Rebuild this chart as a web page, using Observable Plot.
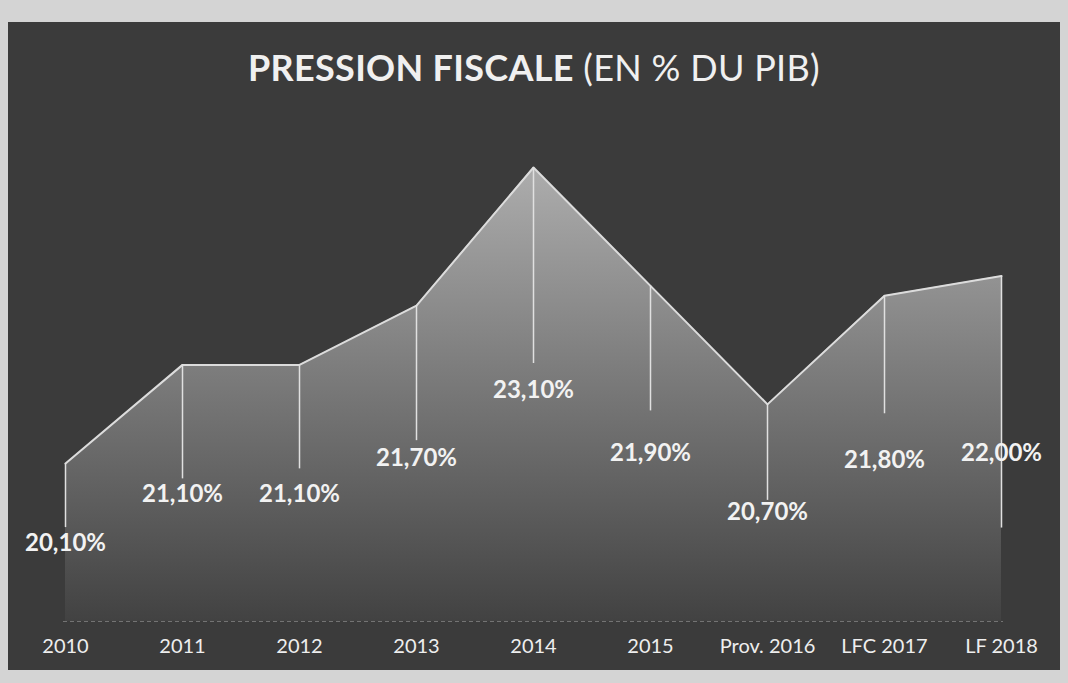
<!DOCTYPE html>
<html><head><meta charset="utf-8">
<script src="https://cdn.jsdelivr.net/npm/d3@7"></script>
<script src="https://cdn.jsdelivr.net/npm/@observablehq/plot@0.6"></script>
<style>
html,body{margin:0;padding:0;background:#d4d4d4;width:1068px;height:683px;overflow:hidden;}
#panel{position:absolute;left:8px;top:22px;width:1052px;height:648px;background:#3b3b3b;}
#title{height:90px;box-sizing:border-box;padding-top:24px;text-align:center;color:#f0f0f0;font-family:Lato,"Open Sans",sans-serif;font-size:36px;line-height:42px;white-space:nowrap;letter-spacing:0.3px;}
#title b{font-weight:700}
#title span{font-weight:400}
#chart svg{display:block;}
</style></head><body>
<div id="panel"><div id="title"><b>PRESSION FISCALE</b> <span>(EN % DU PIB)</span></div><div id="chart"></div></div>
<script>
// Data
const categories = ["2010", "2011", "2012", "2013", "2014", "2015", "Prov. 2016", "LFC 2017", "LF 2018"];
const values = [20.1, 21.1, 21.1, 21.7, 23.1, 21.9, 20.7, 21.8, 22.0];

// Layout (pixel offsets of the manually-placed data labels and their leader lines)
const labelDropPx = [80, 129, 129, 153, 223, 167, 108, 165, 177];
const leaderLenPx = [64, 114, 104, 135, 196, 125, 96, 118, 252];

const W = 1052, H = 558, mTop = 15.5, mBottom = 49, mLeft = 55, mRight = 57;
const yDomain = [18.5, 23.5];
const k = (H - mTop - mBottom) / (yDomain[1] - yDomain[0]);

const data = categories.map((c, i) => ({
  cat: c,
  value: values[i],
  label: values[i].toFixed(2).replace(".", ",") + "%",
  labelY: values[i] - labelDropPx[i] / k,
  leaderEnd: values[i] - leaderLenPx[i] / k
}));

const defs = () => {
  const d = d3.create("svg:defs");
  const g = d.append("linearGradient").attr("id", "areaGrad")
    .attr("x1", 0).attr("y1", 0).attr("x2", 0).attr("y2", 1);
  g.append("stop").attr("offset", "0%").attr("stop-color", "#adadad");
  g.append("stop").attr("offset", "45%").attr("stop-color", "#7c7c7c");
  g.append("stop").attr("offset", "100%").attr("stop-color", "#424242");
  return d.node();
};

const chart = Plot.plot({
  width: W, height: H,
  marginTop: mTop, marginBottom: mBottom, marginLeft: mLeft, marginRight: mRight,
  style: {background: "transparent", color: "#eeeeee", fontFamily: "Lato, 'Open Sans', sans-serif"},
  x: {type: "point", domain: categories, padding: 0},
  y: {domain: yDomain, axis: null},
  marks: [
    defs,
    Plot.areaY(data, {x: "cat", y1: () => yDomain[0], y2: "value", fill: "url(#areaGrad)"}),
    Plot.ruleY([yDomain[0]], {stroke: "#9a9a9a", strokeOpacity: 0.6, strokeDasharray: "4,3"}),
    Plot.lineY(data, {x: "cat", y: "value", stroke: "#dcdcdc", strokeWidth: 2}),
    Plot.ruleX(data, {x: "cat", y1: "value", y2: "leaderEnd", stroke: "#e0e0e0", strokeWidth: 1.5}),
    Plot.text(data, {x: "cat", y: "labelY", text: "label", fill: "#f2f2f2", fontSize: 24, fontWeight: "bold"}),
    Plot.axisX({tickSize: 0, tickPadding: 17, fontSize: 20, fill: "#eeeeee", label: null})
  ]
});
document.getElementById("chart").appendChild(chart);
</script>
</body></html>
